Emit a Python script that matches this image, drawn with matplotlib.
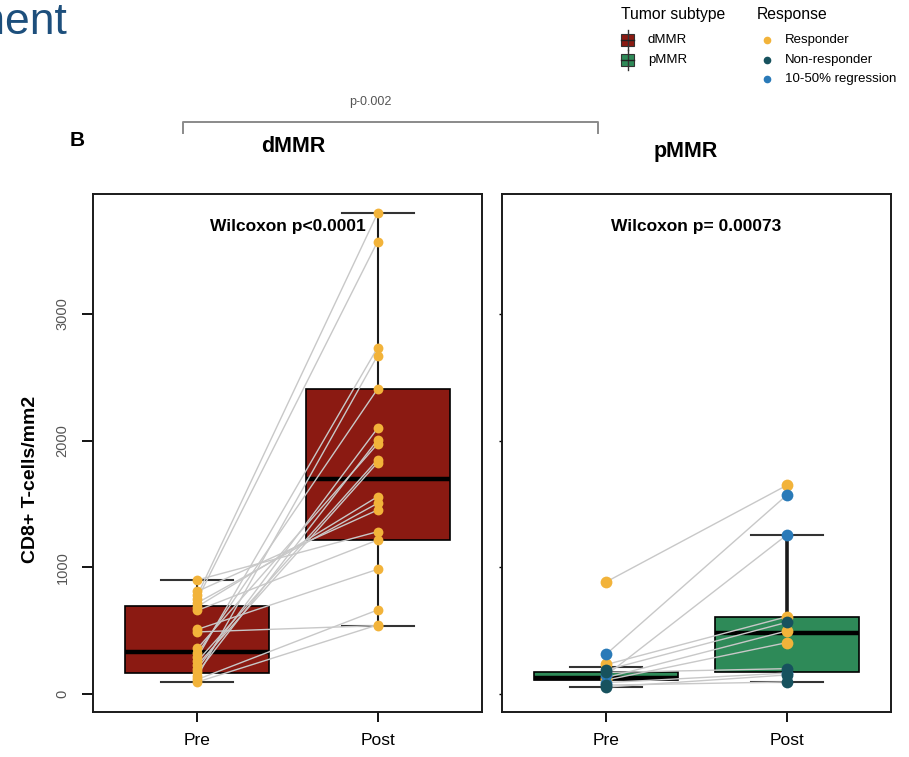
import numpy as np
import matplotlib.pyplot as plt
from matplotlib.patches import Rectangle
from matplotlib.lines import Line2D

plt.rcParams['font.family'] = ['Liberation Sans', 'DejaVu Sans']

W, H = 909, 757

# paired CD8+ densities (cells/mm2), one entry per patient
dmmr_pre = [780, 750, 290, 140, 320, 200, 170, 360, 260, 230,
            690, 720, 810, 900, 660, 510, 115, 95, 490]
dmmr_post = [3794, 3570, 2733, 2670, 2407, 2097, 2005, 1973, 1850, 1826,
             1557, 1505, 1452, 1281, 1215, 984, 663, 545, 540]
dmmr_resp = ['Responder'] * len(dmmr_pre)

pmmr_pre = [886, 316, 150, 233, 190, 130, 110, 170, 90, 70, 55]
pmmr_post = [1646, 1568, 1254, 609, 565, 497, 405, 200, 165, 95, 150]
pmmr_resp = ['Responder', '10-50% regression', '10-50% regression', 'Responder',
             'Non-responder', 'Responder', 'Responder', 'Non-responder',
             '10-50% regression', 'Non-responder', 'Non-responder']

# box summaries: whisker low, q1, median, q3, whisker high
dmmr_pre_box = [95, 169, 335, 698, 900]
dmmr_post_box = [540, 1215, 1694, 2407, 3794]
pmmr_pre_box = [57, 110, 129, 171, 210]
pmmr_post_box = [95, 171, 485, 609, 1254]

timepoints = ['Pre', 'Post']
subtypes = ['dMMR', 'pMMR']
subtype_colors = {'dMMR': '#8B1A12', 'pMMR': '#2E8A58'}
responses = ['Responder', 'Non-responder', '10-50% regression']
resp_colors = {'Responder': '#F2B33A', 'Non-responder': '#17525E',
               '10-50% regression': '#2A7AB8'}
yticks = [0, 1000, 2000, 3000]


def fx(px):
    return px / W


def fy(py):
    return 1 - py / H


def draw_panel(ax, pre, post, resp, pre_box, post_box, fill, pval, size, wlw):
    stats = []
    for b in (pre_box, post_box):
        stats.append(dict(whislo=b[0], q1=b[1], med=b[2], q3=b[3],
                          whishi=b[4], fliers=[]))
    ax.bxp(stats, positions=[1, 2], widths=0.8, capwidths=0.4,
           patch_artist=True, showfliers=False,
           boxprops=dict(facecolor=fill, edgecolor='black', lw=1.2),
           medianprops=dict(color='black', lw=3.2),
           whiskerprops=dict(color='#1a1a1a', lw=wlw),
           capprops=dict(color='#333333', lw=1.5), zorder=1)
    for a, b in zip(pre, post):
        ax.plot([1, 2], [a, b], color='#c8c8c8', lw=1, zorder=2)
    # teal points go last so they sit on top of the cluster
    for r in ['Responder', '10-50% regression', 'Non-responder']:
        idx = [i for i, v in enumerate(resp) if v == r]
        if not idx:
            continue
        ys = [pre[i] for i in idx] + [post[i] for i in idx]
        xs = [1] * len(idx) + [2] * len(idx)
        ax.scatter(xs, ys, s=size, color=resp_colors[r], zorder=3, lw=0)
    ax.set_xlim(0.42, 2.58)
    ax.set_ylim(-142, 3946)
    ax.set_xticks([1, 2])
    ax.set_xticklabels(timepoints, fontsize=12.5)
    ax.set_yticks(yticks)
    for s in ax.spines.values():
        s.set_linewidth(1.4)
        s.set_color('#1a1a1a')
    ax.tick_params(axis='x', length=7, width=1.3, pad=8)
    ax.text(0.5, 0.938, pval, transform=ax.transAxes, ha='center',
            va='center', fontsize=12.5, fontweight='bold')


fig = plt.figure(figsize=(W / 100, H / 100), dpi=100)
axL = fig.add_axes([fx(93), fy(712), 389 / W, 518 / H])
axR = fig.add_axes([fx(502), fy(712), 389 / W, 518 / H])

draw_panel(axL, dmmr_pre, dmmr_post, dmmr_resp, dmmr_pre_box, dmmr_post_box,
           subtype_colors['dMMR'], 'Wilcoxon p<0.0001', 50, 1.5)
draw_panel(axR, pmmr_pre, pmmr_post, pmmr_resp, pmmr_pre_box, pmmr_post_box,
           subtype_colors['pMMR'], 'Wilcoxon p= 0.00073', 72, 2.6)

axL.set_yticklabels([str(t) for t in yticks], fontsize=10.5, color='#555555',
                    rotation=90, va='center')
axL.tick_params(axis='y', length=8, width=1.3, pad=9)
axR.set_yticklabels([])
axR.tick_params(axis='y', length=2, width=1)

fig.text(fx(31), fy(479), 'CD8+ T-cells/mm2', rotation=90, ha='center',
         va='center', fontsize=14, fontweight='bold')

# panel headings
fig.text(fx(77), fy(141), 'B', ha='center', va='center', fontsize=15,
         fontweight='bold')
fig.text(fx(293), fy(147), 'dMMR', ha='center', va='center', fontsize=15.5,
         fontweight='bold')
fig.text(fx(686), fy(152), 'pMMR', ha='center', va='center', fontsize=15.5,
         fontweight='bold')

# comparison bracket between subtypes
fig.add_artist(Line2D([fx(183), fx(183), fx(598), fx(598)],
                      [fy(133), fy(122), fy(122), fy(133)],
                      color='#8a8a8a', lw=1.4))
fig.text(fx(370), fy(102), 'p-0.002', ha='center', va='center', fontsize=9,
         color='#555555')

# slide heading, running off the left edge
fig.text(fx(67), fy(34), 'ment', ha='right', va='baseline', fontsize=32,
         color='#1D4F7C')

# legend: tumor subtype
fig.text(fx(621), fy(15), 'Tumor subtype', ha='left', va='center',
         fontsize=11.3)
for i, st in enumerate(subtypes):
    yc = 40 + 20 * i
    fig.add_artist(Line2D([fx(627.5), fx(627.5)], [fy(yc - 10), fy(yc + 10)],
                          color='#333333', lw=1))
    fig.add_artist(Rectangle((fx(621), fy(yc + 6)), 13 / W, 12 / H,
                             facecolor=subtype_colors[st], edgecolor='#333333',
                             lw=0.8))
    fig.add_artist(Line2D([fx(621), fx(634)], [fy(yc), fy(yc)],
                          color='#222222', lw=1))
    fig.text(fx(648), fy(yc), st, ha='left', va='center', fontsize=9.5)

# legend: response
fig.text(fx(757), fy(14), 'Response', ha='left', va='center', fontsize=11.3)
for i, r in enumerate(responses):
    yc = 40 + 19.5 * i
    fig.add_artist(Line2D([fx(767)], [fy(yc)], marker='o', ms=4.5, lw=0,
                          color=resp_colors[r]))
    fig.text(fx(785), fy(yc), r, ha='left', va='center', fontsize=9.5)

fig.savefig('out.png', dpi=100)
